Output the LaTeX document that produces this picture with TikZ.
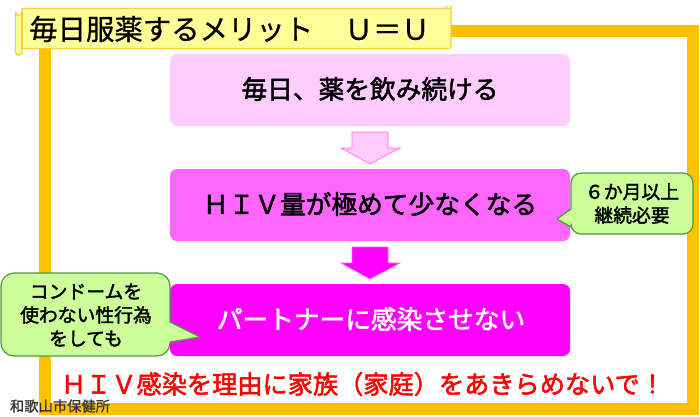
\documentclass[tikz,border=0pt]{standalone}
\usepackage{fontspec}
\setmainfont{Noto Sans CJK JP}
\newfontfamily\cjkb{Noto Sans CJK JP}[FakeBold=2]
\newfontfamily\cjkm{Noto Sans CJK JP}[FakeBold=0.8]
\definecolor{framec}{HTML}{FFC000}
\definecolor{titlef}{HTML}{FFFF99}
\definecolor{titled}{HTML}{FFCC33}
\definecolor{pinka}{HTML}{FFCCFF}
\definecolor{pinkb}{HTML}{FF66FF}
\definecolor{pinkc}{HTML}{FF00FF}
\definecolor{calf}{HTML}{CCFF99}
\definecolor{cald}{HTML}{4F9A3F}
\tikzset{
  x=1pt,y=-1pt,
  mainbox/.style={rounded corners=7pt,minimum width=400pt,minimum height=72pt,inner sep=0pt,anchor=center},
  boxtext/.style={font=\fontsize{25.7}{28}\cjkb,inner sep=0pt},
  calltext/.style={font=\fontsize{18.8}{23.5}\cjkb,align=center,inner sep=0pt},
  callshape/.style={draw=cald,fill=calf,line width=1.2pt,line join=round},
  blockarrow/.style={line width=0.7pt,line join=miter}
}
\begin{document}
\begin{tikzpicture}
\useasboundingbox (0,0) rectangle (700,416);
\fill[white] (0,0) rectangle (700,416);
% frame
\draw[framec,line width=12pt,line join=miter] (45,31) rectangle (693,409);
% footer
\node[font=\fontsize{14.3}{16}\cjkm,text=black!80,inner sep=0pt,anchor=center] (foot) at (60,406) {和歌山市保健所};
% title scroll
\draw[titled,fill=titlef,line width=1.2pt,line join=round]
  (22,8.5) -- (446,8.5) -- (446,6) arc[start angle=180,end angle=0,radius=2.5] -- (451,46) arc[start angle=0,end angle=90,radius=2.5] -- (22,48.5) -- (22,52) arc[start angle=0,end angle=180,radius=3.2] -- (15.6,12) arc[start angle=180,end angle=0,radius=3.2] -- cycle;
\draw[titled,line width=1.2pt] (22,12) -- (22,48.5);
\node[font=\fontsize{28.4}{30}\cjkm,inner sep=0pt,anchor=west] (title) at (29,29) {毎日服薬するメリット　\hspace{3pt}Ｕ＝Ｕ};
% boxes
\node[mainbox,fill=pinka] (b1) at (370,90) {};
\node[mainbox,fill=pinkb] (b2) at (370,205) {};
\node[mainbox,fill=pinkc] (b3) at (370,320) {};
\node[boxtext] (t1) at (370,89) {毎日、薬を飲み続ける};
\node[boxtext] (t2) at (370,204) {ＨＩＶ量が極めて少なくなる};
\node[boxtext,text=white] (t3) at (371,319) {パートナーに感染させない};
% arrows
\draw[blockarrow,draw=pinkb,fill=pinka] (352,132) -- (388,132) -- (388,148) -- (400,148) -- (370,164) -- (341,148) -- (352,148) -- cycle;
\draw[blockarrow,draw=pinkb,fill=pinkc] (352,247) -- (388,247) -- (388,263) -- (400,263) -- (370,279) -- (341,263) -- (352,263) -- cycle;
% right callout
\draw[callshape] (581,173) -- (683,173) arc[start angle=-90,end angle=0,radius=10] -- (693,224) arc[start angle=0,end angle=90,radius=10] -- (581,234) arc[start angle=90,end angle=180,radius=10] -- (571,227) -- (557,219) -- (571,209) -- (571,183) arc[start angle=180,end angle=270,radius=10] -- cycle;
\node[calltext] (c1) at (632,203.5) {６か月以上\\継続必要};
% left callout
\draw[callshape] (14,273) -- (157,273) arc[start angle=-90,end angle=0,radius=13] -- (170,322) -- (200,337) -- (170,342) -- (170,343) arc[start angle=0,end angle=90,radius=13] -- (14,356) arc[start angle=90,end angle=180,radius=13] -- (1,286) arc[start angle=180,end angle=270,radius=13] -- cycle;
\node[calltext] (c2) at (86,315) {コンドームを\\使わない性行為\\をしても};
% slogan
\node[font=\fontsize{25.2}{28}\cjkb,text=red,inner sep=0pt,anchor=center] (slogan) at (363,384) {ＨＩＶ感染を理由に家族（家庭）をあきらめないで！};
\end{tikzpicture}
\end{document}
